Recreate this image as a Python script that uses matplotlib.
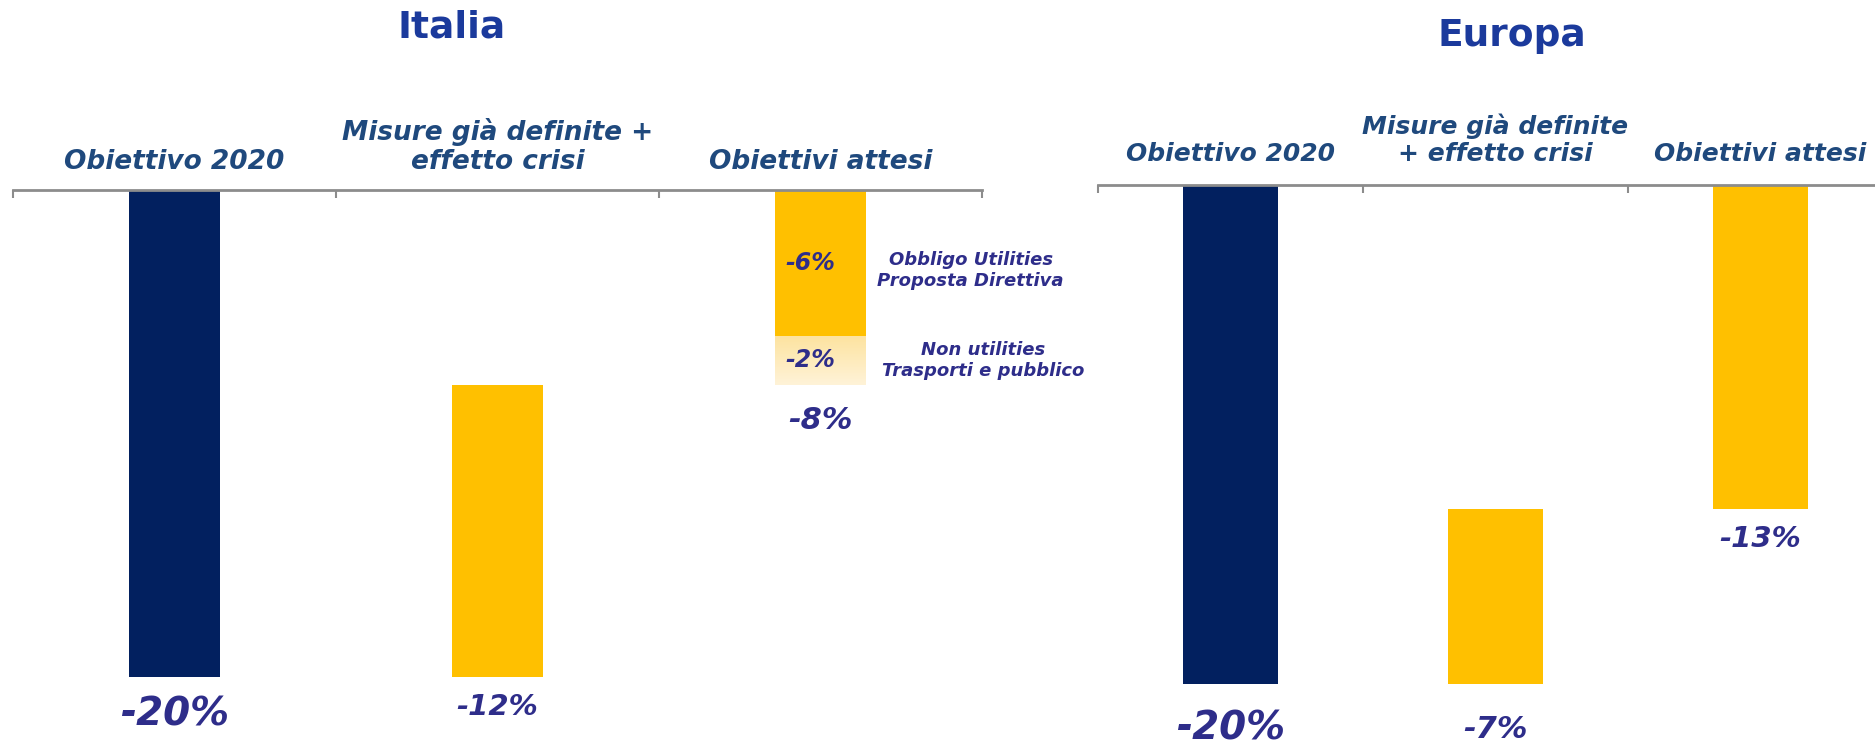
import matplotlib.pyplot as plt
import numpy as np
from matplotlib.colors import LinearSegmentedColormap
from matplotlib.transforms import blended_transform_factory

plt.rcParams['font.family'] = ['DejaVu Sans', 'Noto Sans']

# categories for the two panels
categories_it = ['Obiettivo 2020', 'Misure già definite +\neffetto crisi', 'Obiettivi attesi']
categories_eu = ['Obiettivo 2020', 'Misure già definite\n+ effetto crisi', 'Obiettivi attesi']

# Italia (% reduction)
it_target = -20
it_measures = -12
it_utilities = -6
it_non_utilities = -2
it_expected = it_utilities + it_non_utilities

# Europa (% reduction)
eu_target = -20
eu_measures = -7
eu_expected = -13

NAVY = '#02205f'
YELLOW = '#ffc000'
CAT_COLOR = '#1f497d'
VAL_COLOR = '#2e2d8a'
TITLE_COLOR = '#1b3a9c'
AXIS_GRAY = '#8c8c8c'

W, H = 1875, 747
fig = plt.figure(figsize=(W / 100, H / 100), dpi=100)


def px_axes(left, top, right, bottom):
    # axes from pixel box
    return fig.add_axes([left / W, 1 - bottom / H, (right - left) / W, (bottom - top) / H])


def style_axis(ax):
    ax.set_xlim(-0.5, 2.5)
    ax.set_ylim(-20, 0)
    for side in ['left', 'right', 'bottom']:
        ax.spines[side].set_visible(False)
    ax.spines['top'].set_color(AXIS_GRAY)
    ax.spines['top'].set_linewidth(2)
    ax.set_yticks([])
    ax.xaxis.tick_top()
    ax.set_xticks([-0.5, 0.5, 1.5, 2.5])
    ax.tick_params(axis='x', direction='in', length=6, width=1.5, color=AXIS_GRAY,
                   labeltop=False, labelbottom=False)
    ax.patch.set_alpha(0)


def category_labels(ax, labels, size, offset):
    trans = blended_transform_factory(ax.transData, ax.transAxes)
    for i, lab in enumerate(labels):
        ax.annotate(lab, xy=(i, 1), xycoords=trans, xytext=(0, offset),
                    textcoords='offset pixels', ha='center', va='bottom',
                    fontsize=size, fontweight='bold', fontstyle='italic',
                    color=CAT_COLOR, linespacing=1.15, annotation_clip=False)


def value_label(ax, x, y, text, size, offset):
    ax.annotate(text, xy=(x, y), xytext=(0, -offset), textcoords='offset pixels',
                ha='center', va='center', fontsize=size, fontweight='bold',
                fontstyle='italic', color=VAL_COLOR, annotation_clip=False)


# ---- Italia ----
ax1 = px_axes(13, 190, 982, 677)
bw1 = 0.28
ax1.bar(0, it_target, bottom=0, width=bw1, color=NAVY)
ax1.bar(1, it_measures, bottom=it_target - it_measures, width=bw1, color=YELLOW)
ax1.bar(2, it_utilities, bottom=0, width=bw1, color=YELLOW)

# non-utilities block with a soft gradient
grad = np.linspace(0, 1, 100).reshape(-1, 1)
cmap = LinearSegmentedColormap.from_list('soft', ['#fde3a0', '#fff3d8'])
ax1.imshow(grad, cmap=cmap, aspect='auto', origin='upper',
           extent=[2 - bw1 / 2, 2 + bw1 / 2, it_expected, it_utilities], zorder=2)
style_axis(ax1)

category_labels(ax1, categories_it, 19, 15)
value_label(ax1, 0, it_target, '-20%', 28, 38)
value_label(ax1, 1, it_target, '-12%', 21, 30)
value_label(ax1, 2, it_expected, '-8%', 22, 36)
ax1.text(1.97, it_utilities / 2, '-6%', ha='center', va='center', fontsize=17,
         fontweight='bold', fontstyle='italic', color=VAL_COLOR)
ax1.text(1.97, it_utilities + it_non_utilities / 2, '-2%', ha='center', va='center',
         fontsize=17, fontweight='bold', fontstyle='italic', color=VAL_COLOR)
ax1.text(2.465, -3.3, 'Obbligo Utilities\nProposta Direttiva', ha='center', va='center',
         fontsize=13, fontweight='bold', fontstyle='italic', color=VAL_COLOR,
         linespacing=1.2, clip_on=False)
ax1.text(2.505, -7.0, 'Non utilities\nTrasporti e pubblico', ha='center', va='center',
         fontsize=13, fontweight='bold', fontstyle='italic', color=VAL_COLOR,
         linespacing=1.2, clip_on=False)

# ---- Europa ----
ax2 = px_axes(1098, 185, 1893, 684)
bw2 = 0.36
ax2.bar(0, eu_target, bottom=0, width=bw2, color=NAVY)
ax2.bar(1, eu_measures, bottom=eu_target - eu_measures, width=bw2, color=YELLOW)
ax2.bar(2, eu_expected, bottom=0, width=bw2, color=YELLOW)
style_axis(ax2)

category_labels(ax2, categories_eu, 18, 19)
value_label(ax2, 0, eu_target, '-20%', 28, 44)
value_label(ax2, 1, eu_target, '-7%', 22, 46)
value_label(ax2, 2, eu_expected, '-13%', 21, 30)

fig.text(452 / W, 1 - 28 / H, 'Italia', ha='center', va='center', fontsize=27,
         fontweight='bold', color=TITLE_COLOR)
fig.text(1512 / W, 1 - 36 / H, 'Europa', ha='center', va='center', fontsize=27,
         fontweight='bold', color=TITLE_COLOR)

fig.savefig('out.png', dpi=100, facecolor='white')
